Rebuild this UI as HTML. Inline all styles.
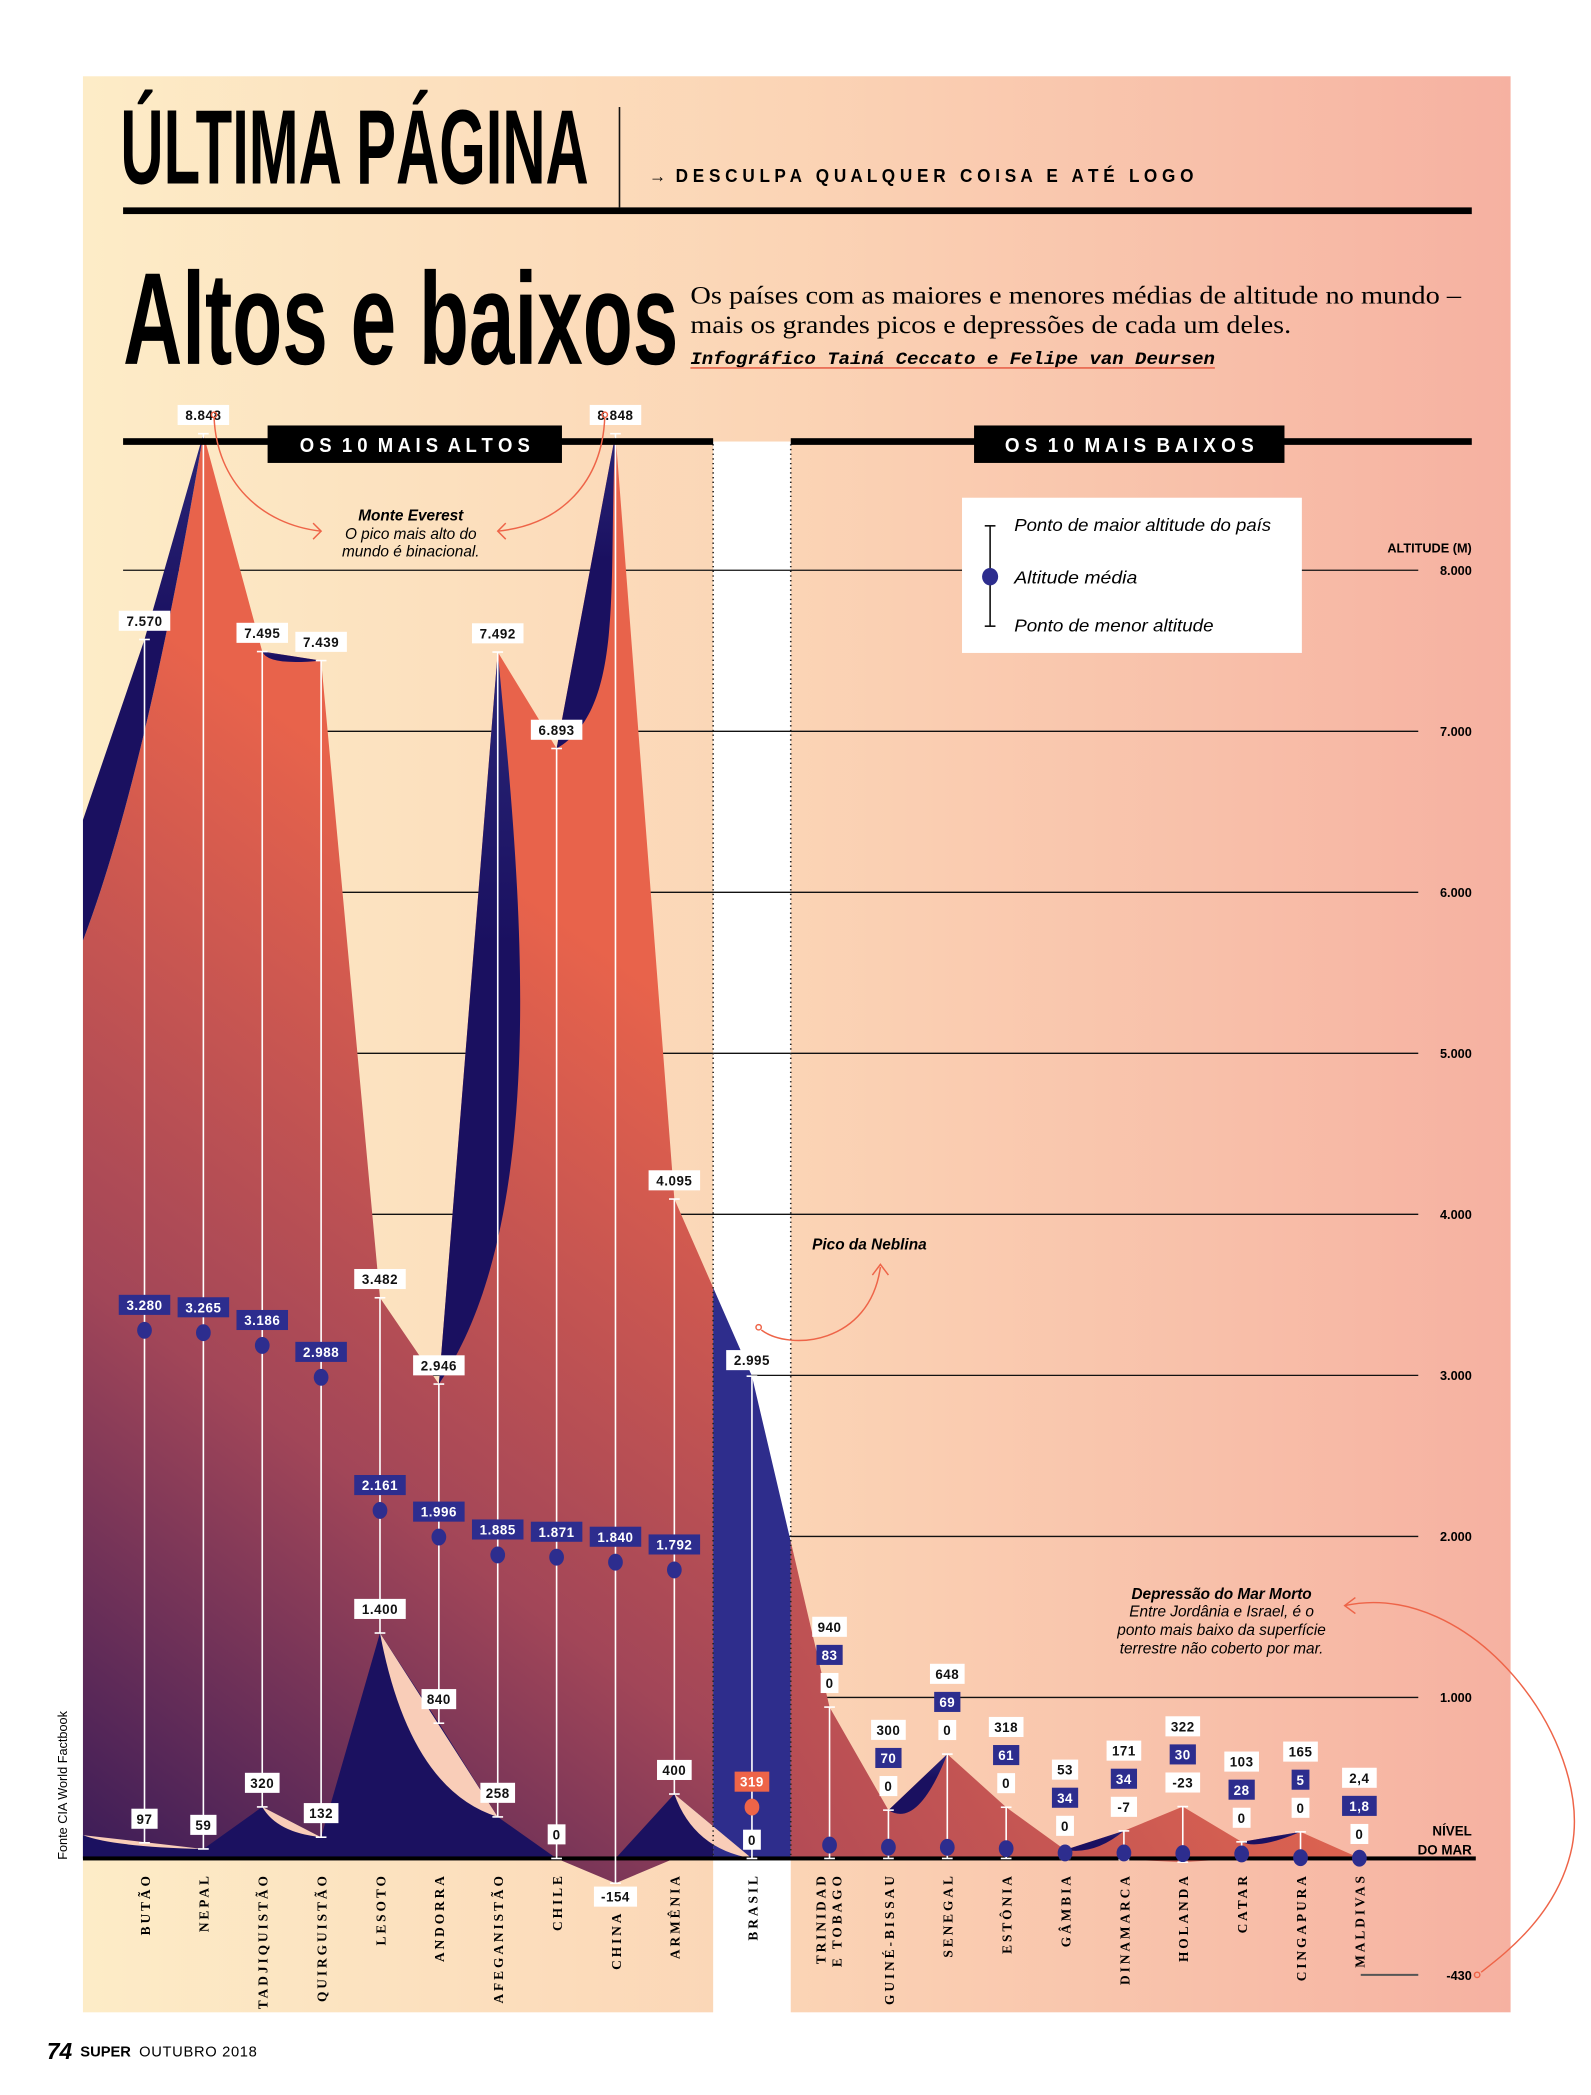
<!DOCTYPE html>
<html><head><meta charset="utf-8"><style>
html,body{margin:0;padding:0;background:#fff;}
svg{display:block;}
text{font-family:"Liberation Sans",sans-serif;}
text.serif{font-family:"Liberation Serif",serif;}
text.mono{font-family:"Liberation Mono",monospace;}
.pre{white-space:pre;}
</style></head><body>
<svg id="chart" width="1591" height="2095" viewBox="0 0 1189.1 1565.8" preserveAspectRatio="none" xmlns="http://www.w3.org/2000/svg">
<defs>
<linearGradient id="bgGrad" x1="0" y1="0" x2="1" y2="0">
<stop offset="0" stop-color="#fdecc7"/><stop offset="0.5" stop-color="#fbd4b5"/><stop offset="1" stop-color="#f6b1a1"/>
</linearGradient>
<linearGradient id="redL" gradientUnits="userSpaceOnUse" x1="62" y1="1389" x2="520" y2="760">
<stop offset="0" stop-color="#3b1c58"/><stop offset="0.45" stop-color="#a24658"/><stop offset="1" stop-color="#e8634b"/>
</linearGradient>
<linearGradient id="redR" gradientUnits="userSpaceOnUse" x1="600" y1="1389" x2="900" y2="1200">
<stop offset="0" stop-color="#b44c55"/><stop offset="1" stop-color="#dc6350"/>
</linearGradient>
<linearGradient id="navyG" x1="0" y1="0" x2="0" y2="1">
<stop offset="0" stop-color="#2a2678"/><stop offset="0.4" stop-color="#1a1060"/><stop offset="1" stop-color="#1a1060"/>
</linearGradient>
<clipPath id="clipL"><rect x="0" y="0" width="533" height="1566"/></clipPath>
<clipPath id="clipB"><rect x="533" y="0" width="58" height="1566"/></clipPath>
<clipPath id="clipR"><rect x="591" y="0" width="600" height="1566"/></clipPath>
</defs>

<rect x="62" y="57" width="1067" height="1447" fill="url(#bgGrad)"/>
<rect x="533" y="330" width="58" height="1175" fill="#ffffff"/>

<g>
<text x="90" y="137" font-size="79" font-weight="bold" textLength="350" lengthAdjust="spacingAndGlyphs">ÚLTIMA PÁGINA</text>
<line x1="463" y1="80" x2="463" y2="155" stroke="#111" stroke-width="1.2"/>
<text class="pre" x="485" y="136" font-size="13.5" font-weight="bold" textLength="407" lengthAdjust="spacingAndGlyphs">→  D E S C U L P A   Q U A L Q U E R   C O I S A   E   A T É   L O G O</text>
<rect x="92" y="155" width="1008" height="5" fill="#000"/>
<text x="92" y="272" font-size="98" font-weight="bold" textLength="415" lengthAdjust="spacingAndGlyphs">Altos e baixos</text>
<text class="serif" x="516" y="227" font-size="19" textLength="576" lengthAdjust="spacingAndGlyphs">Os países com as maiores e menores médias de altitude no mundo –</text>
<text class="serif" x="516" y="249" font-size="19" textLength="449" lengthAdjust="spacingAndGlyphs">mais os grandes picos e depressões de cada um deles.</text>
<text class="mono" x="516" y="272" font-size="13" font-weight="bold" font-style="italic" textLength="392" lengthAdjust="spacingAndGlyphs">Infográfico Tainá Ceccato e Felipe van Deursen</text>
<line x1="516" y1="275" x2="908" y2="275" stroke="#e8634b" stroke-width="1.2"/>
</g>

<g id="grid"></g>
<g id="marks"></g>

<g>
<rect x="92" y="327.5" width="441" height="5" fill="#000"/>
<rect x="591" y="327.5" width="509" height="5" fill="#000"/>
<rect x="200" y="318" width="220" height="28" fill="#000"/>
<text class="pre" x="310" y="338" font-size="15" font-weight="bold" fill="#fff" text-anchor="middle" textLength="172" lengthAdjust="spacingAndGlyphs">O S  1 0  M A I S  A L T O S</text>
<rect x="728" y="318" width="232" height="28" fill="#000"/>
<text class="pre" x="844" y="338" font-size="15" font-weight="bold" fill="#fff" text-anchor="middle" textLength="186" lengthAdjust="spacingAndGlyphs">O S  1 0  M A I S  B A I X O S</text>
</g>

<g>
<rect x="719" y="372" width="254" height="116" fill="#fff"/>
<line x1="740" y1="393" x2="740" y2="468" stroke="#111" stroke-width="1.2"/>
<line x1="736" y1="393" x2="744" y2="393" stroke="#111" stroke-width="1.2"/>
<line x1="736" y1="468" x2="744" y2="468" stroke="#111" stroke-width="1.2"/>
<ellipse cx="740" cy="431" rx="6" ry="6.5" fill="#2d2d8e"/>
<text x="758" y="397" font-size="13" font-style="italic" textLength="192" lengthAdjust="spacingAndGlyphs">Ponto de maior altitude do país</text>
<text x="758" y="436" font-size="13" font-style="italic" textLength="92" lengthAdjust="spacingAndGlyphs">Altitude média</text>
<text x="758" y="472" font-size="13" font-style="italic" textLength="149" lengthAdjust="spacingAndGlyphs">Ponto de menor altitude</text>
</g>

<text x="1100" y="413" font-size="9.5" font-weight="bold" text-anchor="end">ALTITUDE (M)</text>
<text x="1100" y="1372" font-size="10" font-weight="bold" text-anchor="end">NÍVEL</text>
<text x="1100" y="1386" font-size="10" font-weight="bold" text-anchor="end">DO MAR</text>
<line x1="1017" y1="1476" x2="1060" y2="1476" stroke="#555" stroke-width="1.5"/>
<text x="1100" y="1480" font-size="9.5" font-weight="bold" text-anchor="end">-430</text>

<g fill="none" stroke="#ee6448" stroke-width="1.1">
<circle cx="160" cy="310" r="2"/>
<path d="M160,312 C162,360 195,392 240,397"/>
<polyline points="234,391 240,397 234,403"/>
<circle cx="452" cy="310" r="2"/>
<path d="M452,312 C450,360 420,392 372,397"/>
<polyline points="378,391 372,397 378,403"/>
<circle cx="567" cy="992" r="2"/>
<path d="M569,994 C590,1010 650,1005 658,947"/>
<polyline points="652,953 658,945 664,953"/>
<path d="M1005,1200 C1100,1180 1190,1300 1175,1380 C1165,1430 1125,1460 1107,1474"/>
<polyline points="1013,1194 1005,1200 1013,1206"/>
<circle cx="1104" cy="1476" r="2"/>
</g>
<g font-size="11.5" font-style="italic">
<text x="307" y="389" text-anchor="middle" font-weight="bold">Monte Everest</text>
<text x="307" y="403" text-anchor="middle">O pico mais alto do</text>
<text x="307" y="416" text-anchor="middle">mundo é binacional.</text>
<text x="607" y="934" font-weight="bold">Pico da Neblina</text>
<text x="913" y="1195" text-anchor="middle" font-weight="bold">Depressão do Mar Morto</text>
<text x="913" y="1208" text-anchor="middle">Entre Jordânia e Israel, é o</text>
<text x="913" y="1222" text-anchor="middle">ponto mais baixo da superfície</text>
<text x="913" y="1236" text-anchor="middle">terrestre não coberto por mar.</text>
</g>

<text transform="translate(50,1390) rotate(-90)" font-size="9.5">Fonte CIA World Factbook</text>
<g>
<text x="35" y="1539" font-size="17" font-weight="bold" font-style="italic">74</text>
<text x="60" y="1537" font-size="11" font-weight="bold">SUPER</text>
<text x="104" y="1537" font-size="11" letter-spacing="0.5">OUTUBRO 2018</text>
</g>
</svg>
<script>
const countries = ["BUTÃO","NEPAL","TADJIQUISTÃO","QUIRGUISTÃO","LESOTO","ANDORRA","AFEGANISTÃO","CHILE","CHINA","ARMÊNIA","BRASIL","TRINIDAD|E TOBAGO","GUINÉ-BISSAU","SENEGAL","ESTÔNIA","GÂMBIA","DINAMARCA","HOLANDA","CATAR","CINGAPURA","MALDIVAS"];
const highs = [7570,8848,7495,7439,3482,2946,7492,6893,8848,4095,2995,940,300,648,318,53,171,322,103,165,2.4];
const means = [3280,3265,3186,2988,2161,1996,1885,1871,1840,1792,319,83,70,69,61,34,34,30,28,5,1.8];
const lows = [97,59,320,132,1400,840,258,0,-154,400,0,0,0,0,0,0,-7,-23,0,0,0];
const highLabels = ["7.570","8.848","7.495","7.439","3.482","2.946","7.492","6.893","8.848","4.095","2.995","940","300","648","318","53","171","322","103","165","2,4"];
const meanLabels = ["3.280","3.265","3.186","2.988","2.161","1.996","1.885","1.871","1.840","1.792","319","83","70","69","61","34","34","30","28","5","1,8"];
const lowLabels = ["97","59","320","132","1.400","840","258","0","-154","400","0","0","0","0","0","0","-7","-23","0","0","0"];
const gridTicks = [1000,2000,3000,4000,5000,6000,7000,8000];
const gridTickLabels = ["1.000","2.000","3.000","4.000","5.000","6.000","7.000","8.000"];
const edgeHigh = 5700;
const edgeOuter = 6450;
const edgeLow = 145;

(function(){
const NS = "http://www.w3.org/2000/svg";
const Y0 = 1389, K = 0.12035;
function y(v){ return Y0 - v*K; }
function x(i){ if(i<10) return 108 + i*44; if(i===10) return 562; return 620 + (i-11)*44; }
function el(tag, attrs, parent){ const e=document.createElementNS(NS,tag); for(const k in attrs) e.setAttribute(k,attrs[k]); parent.appendChild(e); return e; }

const gridG = document.getElementById('grid');
const marksG = document.getElementById('marks');

gridTicks.forEach((v,i)=>{
  const l = el('line',{x1:92,y1:y(v),x2:1060,y2:y(v),stroke:'#111','stroke-width':1}, gridG);
  
  
  const t = el('text',{x:1100,y:y(v)+3.5,'font-size':9.5,'font-weight':'bold','text-anchor':'end'}, gridG);
  
  
  t.textContent = gridTickLabels[i];
});

const N = countries.length;
const c1x = (4*x(0)-62-x(1))/2;
const c1y = 2*y(7000) - 0.5*(y(edgeHigh)+y(highs[1]));
let topD = `M62,${y(edgeHigh)} Q${c1x},${c1y} ${x(1)},${y(highs[1])}`;
for(let i=2;i<N;i++) topD += ` L${x(i)},${y(highs[i])}`;
let botD = '';
for(let i=N-1;i>=0;i--) botD += ` L${x(i)},${y(Math.min(lows[i],0))}`;
const areaD = topD + botD + ` L62,${Y0} Z`;

const redL = el('path',{d:areaD,fill:'url(#redL)','clip-path':'url(#clipL)'}, marksG);


const brA = el('path',{d:areaD,fill:'#2e2d8c','clip-path':'url(#clipB)'}, marksG);


const redR = el('path',{d:areaD,fill:'url(#redR)','clip-path':'url(#clipR)'}, marksG);



const NAVY = '#1b1160';
const ridge = el('path',{d:`M62,${y(edgeOuter)} L${x(0)},${y(highs[0])} L${x(1)},${y(highs[1])} Q${c1x},${c1y} 62,${y(edgeHigh)} Z`,fill:'url(#navyG)'}, marksG);



let lowD = `M62,${Y0} L62,${y(edgeLow)}`;
for(let i=0;i<=10;i++) lowD += ` L${x(i)},${y(Math.max(lows[i],0))}`;
lowD += ` L${x(10)},${Y0} Z`;
const lowA = el('path',{d:lowD,fill:NAVY,'clip-path':'url(#clipL)'}, marksG);



function strip(ax,ay,bx,by,name){
  const p = el('path',{d:`M${ax},${ay} L${bx},${by} Q${ax+(bx-ax)*0.25},${ay+(by-ay)*0.85} ${ax},${ay} Z`,fill:'#f9cdb8'}, marksG);
  
  
}
strip(62,y(edgeLow),x(1),y(lows[1]),'strip-butao');
strip(x(2),y(lows[2]),x(3),y(lows[3]),'strip-tadjiquistao');
strip(x(4),y(lows[4]),x(6),y(lows[6]),'strip-lesoto');
strip(x(9),y(lows[9]),x(10),y(lows[10]),'strip-armenia');

function blade(d,name){
  const p = el('path',{d:d,fill:'url(#navyG)'}, marksG);
  
  
}
blade(`M${x(2)},${y(highs[2])} L${x(3)},${y(highs[3])} Q${x(2)+4},${y(highs[3])+4} ${x(2)},${y(highs[2])} Z`,'tadjiquistao-blade');
blade(`M${x(5)},${y(highs[5])} L${x(6)},${y(highs[6])} C${x(6)+14},${y(highs[6])+150} ${x(6)+45},${y(highs[5])-130} ${x(5)},${y(highs[5])} Z`,'afeganistao-blade');
blade(`M${x(7)},${y(highs[7])} L${x(8)},${y(highs[8])} C${x(8)-6},${y(highs[8])+110} ${x(8)+8},${y(highs[7])-30} ${x(7)},${y(highs[7])} Z`,'china-blade');
blade(`M${x(12)},${y(highs[12])} L${x(13)},${y(highs[13])} Q${x(12)+22},${y(highs[12])+14} ${x(12)},${y(highs[12])} Z`,'senegal-blade');
blade(`M${x(15)},${y(highs[15])} L${x(16)},${y(highs[16])} Q${x(15)+22},${y(highs[15])+4} ${x(15)},${y(highs[15])} Z`,'dinamarca-blade');
blade(`M${x(18)},${y(highs[18])} L${x(19)},${y(highs[19])} Q${x(18)+12},${y(highs[18])+6} ${x(18)},${y(highs[18])} Z`,'cingapura-blade');

[533,591].forEach(xx=>{
  const d = el('line',{x1:xx,y1:332,x2:xx,y2:Y0,stroke:'#222','stroke-width':1.2,'stroke-dasharray':'1 2.5'}, marksG);
  
  
});
const baseR = el('rect',{x:62,y:Y0-1.5,width:1041,height:3,fill:'#000'}, marksG);



function label(cx,cy,txt,fill,color,name){
  const w = txt.length*6.3+7;
  const g = el('g',{}, marksG);
  
  
  el('rect',{x:cx-w/2,y:cy-7.5,width:w,height:15,fill:fill}, g);
  const t = el('text',{x:cx,y:cy+3.8,'font-size':10,'font-weight':'bold','text-anchor':'middle',fill:color,'letter-spacing':0.4}, g);
  t.textContent = txt;
}

for(let i=0;i<N;i++){
  const xi = x(i), hy = y(highs[i]), ly = y(lows[i]), my = y(means[i]);
  const vl = el('line',{x1:xi,y1:hy,x2:xi,y2:ly,stroke:'#fff','stroke-width':1.2}, marksG);
  
  
  el('line',{x1:xi-4,y1:hy,x2:xi+4,y2:hy,stroke:'#fff','stroke-width':1.2}, marksG);
  el('line',{x1:xi-4,y1:ly,x2:xi+4,y2:ly,stroke:'#fff','stroke-width':1.2}, marksG);
  const isBr = i===10;
  const dot = el('ellipse',{cx:xi,cy:my,rx:5.5,ry:6.3,fill:isBr?'#ee6448':'#2d2d8e'}, marksG);
  
  
  if(i<=10){
    label(xi, hy-(isBr?12:14), highLabels[i], '#fff', '#111', 'high-label');
    label(xi, my-19, meanLabels[i], isBr?'#ee6448':'#2d2d8e', '#fff', 'mean-label');
    label(xi, lows[i]<0 ? ly+10 : ly-(isBr?14:18), lowLabels[i], '#fff', '#111', 'low-label');
  } else {
    label(xi, hy-60, highLabels[i], '#fff', '#111', 'high-label');
    label(xi, hy-39, meanLabels[i], '#2d2d8e', '#fff', 'mean-label');
    label(xi, hy-18, lowLabels[i], '#fff', '#111', 'low-label');
  }
  const parts = countries[i].split('|');
  const topY = lows[i] < -50 ? 1428 : 1400;
  parts.forEach((p,k)=>{
    const off = parts.length>1 ? (k===0?-3:9) : 4;
    const t = el('text',{transform:`translate(${xi+off},${topY}) rotate(-90)`,'text-anchor':'end','font-size':10,'font-weight':'bold','letter-spacing':2.2}, marksG);
    t.setAttribute('class','serif');
    
    
    t.textContent = p;
  });
}
})();
</script>
</body></html>
